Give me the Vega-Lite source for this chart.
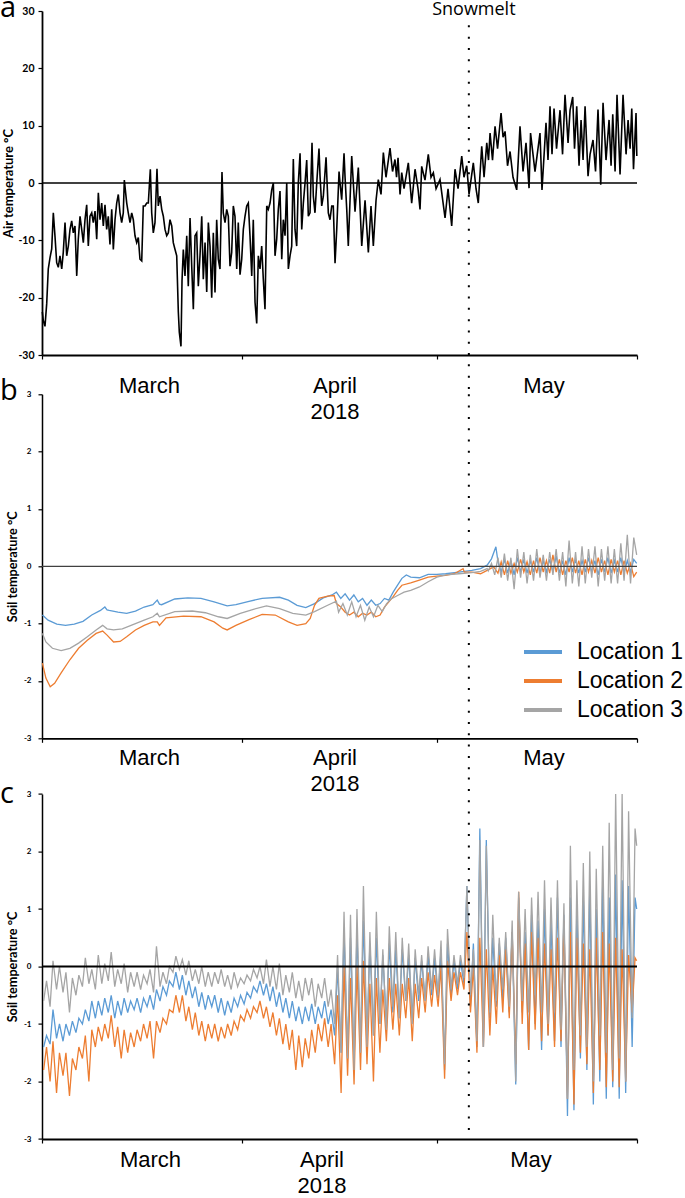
{
"$schema":"https://vega.github.io/schema/vega-lite/v6.json",
"padding":{"left":0,"top":-6,"right":0,"bottom":0},
"background":"white",
"config":{"view":{"stroke":null},"axis":{"grid":false,"domainColor":"black","tickColor":"black","labelColor":"black","titleColor":"black"}},
"datasets":{
"snow":[{"d":66,"label":"Snowmelt"}],
"zero":[{"t":0}],
"air":[{"d":0.05,"t":-22.5},{"d":0.2,"t":-24},{"d":0.46,"t":-25},{"d":0.73,"t":-21},{"d":0.97,"t":-15},{"d":1.24,"t":-13},{"d":1.5,"t":-11.5},{"d":1.75,"t":-5.2},{"d":2.01,"t":-9.3},{"d":2.27,"t":-13.9},{"d":2.52,"t":-14.7},{"d":2.78,"t":-12.7},{"d":3.05,"t":-15},{"d":3.29,"t":-12.1},{"d":3.56,"t":-6.9},{"d":3.82,"t":-12.7},{"d":4.07,"t":-11},{"d":4.33,"t":-8.1},{"d":4.59,"t":-6.6},{"d":4.84,"t":-8.7},{"d":5.1,"t":-7.5},{"d":5.37,"t":-16.2},{"d":5.61,"t":-9.8},{"d":5.88,"t":-5.8},{"d":6.14,"t":-8.1},{"d":6.39,"t":-10.4},{"d":6.65,"t":-6.4},{"d":6.91,"t":-3.8},{"d":7.16,"t":-11},{"d":7.42,"t":-5.8},{"d":7.69,"t":-5.2},{"d":7.93,"t":-6.9},{"d":8.2,"t":-4.9},{"d":8.46,"t":-9.8},{"d":8.71,"t":-1.7},{"d":8.97,"t":-6.4},{"d":9.23,"t":-3.5},{"d":9.48,"t":-7.5},{"d":9.74,"t":-3.8},{"d":10.0,"t":-8.1},{"d":10.25,"t":-5.8},{"d":10.51,"t":-10.7},{"d":10.78,"t":-4.6},{"d":11.03,"t":-11.6},{"d":11.29,"t":-6.4},{"d":11.55,"t":-3.5},{"d":11.8,"t":-2},{"d":12.06,"t":-5.2},{"d":12.32,"t":-6.9},{"d":12.57,"t":-5.2},{"d":12.73,"t":0.5},{"d":13.1,"t":-3.5},{"d":13.34,"t":-5.2},{"d":13.61,"t":-6.9},{"d":13.87,"t":-5.2},{"d":14.12,"t":-6.4},{"d":14.38,"t":-9.2},{"d":14.64,"t":-10.4},{"d":14.89,"t":-9.5},{"d":15.15,"t":-13.3},{"d":15.42,"t":-13.6},{"d":15.66,"t":-4},{"d":15.93,"t":-4},{"d":16.19,"t":-3.5},{"d":16.44,"t":-3.5},{"d":16.75,"t":2.4},{"d":16.96,"t":-5.2},{"d":17.21,"t":-8.7},{"d":17.47,"t":-6.9},{"d":17.78,"t":2.5},{"d":17.98,"t":-4},{"d":18.25,"t":-2.3},{"d":18.51,"t":-4.6},{"d":18.76,"t":-5.8},{"d":19.02,"t":-8.1},{"d":19.28,"t":-9.2},{"d":19.53,"t":-8.7},{"d":19.79,"t":-6.4},{"d":20.06,"t":-7.5},{"d":20.3,"t":-10.4},{"d":20.57,"t":-11.6},{"d":20.83,"t":-12.7},{"d":21.08,"t":-22.5},{"d":21.23,"t":-26},{"d":21.49,"t":-28.5},{"d":21.65,"t":-17},{"d":21.85,"t":-11.6},{"d":22.11,"t":-16.2},{"d":22.38,"t":-9.2},{"d":22.62,"t":-18},{"d":22.89,"t":-6.1},{"d":23.15,"t":-14.5},{"d":23.4,"t":-22},{"d":23.66,"t":-9.2},{"d":23.92,"t":-8.7},{"d":24.17,"t":-18},{"d":24.43,"t":-12.7},{"d":24.7,"t":-5.8},{"d":24.94,"t":-16.8},{"d":25.21,"t":-10.4},{"d":25.47,"t":-19},{"d":25.72,"t":-6.9},{"d":25.98,"t":-11},{"d":26.24,"t":-20},{"d":26.49,"t":-8.7},{"d":26.75,"t":-19.1},{"d":27.01,"t":-6.4},{"d":27.26,"t":-13.3},{"d":27.52,"t":-15},{"d":27.83,"t":1.9},{"d":28.03,"t":-5.2},{"d":28.3,"t":-6.9},{"d":28.56,"t":-4.6},{"d":28.81,"t":-5.8},{"d":29.07,"t":-14.5},{"d":29.33,"t":-12.1},{"d":29.58,"t":-4},{"d":29.84,"t":-5.8},{"d":30.11,"t":-15},{"d":30.35,"t":-6.9},{"d":30.62,"t":-16},{"d":30.88,"t":-13.3},{"d":31.13,"t":-8.1},{"d":31.39,"t":-5.8},{"d":31.65,"t":-4},{"d":31.9,"t":-3.5},{"d":32.16,"t":-9.2},{"d":32.43,"t":-16.2},{"d":32.67,"t":-6.4},{"d":32.94,"t":-20.8},{"d":33.2,"t":-24.5},{"d":33.45,"t":-12.7},{"d":33.71,"t":-15},{"d":33.97,"t":-11},{"d":34.22,"t":-16.8},{"d":34.48,"t":-22},{"d":34.75,"t":-4},{"d":34.99,"t":-4.6},{"d":35.26,"t":-3.5},{"d":35.52,"t":-1.2},{"d":35.77,"t":0},{"d":36.03,"t":-12.7},{"d":36.29,"t":-9.8},{"d":36.54,"t":-4.6},{"d":36.8,"t":-1.4},{"d":37.07,"t":-13.3},{"d":37.31,"t":-6.4},{"d":37.58,"t":-9.2},{"d":37.84,"t":0},{"d":38.09,"t":-15},{"d":38.35,"t":-12.7},{"d":38.61,"t":-11},{"d":38.86,"t":4.2},{"d":39.12,"t":-8.1},{"d":39.38,"t":-11},{"d":39.63,"t":0},{"d":39.9,"t":5.2},{"d":40.16,"t":-8.1},{"d":40.41,"t":-3.5},{"d":40.67,"t":0},{"d":40.93,"t":4},{"d":41.18,"t":-5.8},{"d":41.44,"t":-5.2},{"d":41.75,"t":7},{"d":41.95,"t":-2.3},{"d":42.21,"t":-5.2},{"d":42.48,"t":0},{"d":42.83,"t":6},{"d":42.99,"t":1.2},{"d":43.25,"t":-4},{"d":43.5,"t":-2.3},{"d":43.92,"t":4.5},{"d":44.27,"t":-5.2},{"d":44.53,"t":-6.4},{"d":44.8,"t":-4},{"d":45.04,"t":-4},{"d":45.31,"t":-14},{"d":45.57,"t":-8.1},{"d":45.93,"t":2},{"d":46.08,"t":0},{"d":46.34,"t":-2.9},{"d":46.7,"t":5.2},{"d":46.85,"t":1.2},{"d":47.12,"t":-4.6},{"d":47.36,"t":-11},{"d":47.89,"t":4.7},{"d":48.4,"t":-5},{"d":48.91,"t":2.7},{"d":49.44,"t":-11},{"d":49.95,"t":-3},{"d":50.46,"t":-12.1},{"d":50.87,"t":-4},{"d":51.23,"t":-11},{"d":51.65,"t":-3},{"d":52.0,"t":0.6},{"d":52.42,"t":-2},{"d":52.78,"t":5.3},{"d":53.19,"t":1},{"d":53.81,"t":6.1},{"d":54.2,"t":2},{"d":54.58,"t":4.1},{"d":54.82,"t":1},{"d":55.05,"t":4.4},{"d":55.36,"t":-2},{"d":55.62,"t":1.8},{"d":55.98,"t":-1},{"d":56.64,"t":3.5},{"d":57.16,"t":-3.5},{"d":57.68,"t":2.4},{"d":58.14,"t":-1},{"d":58.45,"t":-4.6},{"d":58.71,"t":2.9},{"d":59.22,"t":0.5},{"d":59.73,"t":5},{"d":60.15,"t":1},{"d":60.51,"t":1.8},{"d":60.93,"t":-1},{"d":61.54,"t":0.6},{"d":62.32,"t":-6.1},{"d":62.78,"t":-1},{"d":63.35,"t":-7.5},{"d":63.86,"t":2.4},{"d":64.33,"t":-1},{"d":64.9,"t":4.7},{"d":65.25,"t":1},{"d":65.67,"t":3},{"d":66.03,"t":-2},{"d":66.69,"t":3.5},{"d":67.11,"t":-1},{"d":67.46,"t":-3.5},{"d":67.99,"t":6.4},{"d":68.35,"t":1},{"d":68.77,"t":7},{"d":69.04,"t":4},{"d":69.28,"t":8.7},{"d":69.66,"t":4},{"d":70.05,"t":9.9},{"d":70.44,"t":6},{"d":70.98,"t":12.2},{"d":71.29,"t":8},{"d":71.6,"t":9},{"d":71.98,"t":3},{"d":72.37,"t":5.5},{"d":72.83,"t":1},{"d":73.4,"t":-1.2},{"d":73.91,"t":9.9},{"d":74.38,"t":2},{"d":74.84,"t":7},{"d":75.31,"t":-0.9},{"d":75.54,"t":8.7},{"d":76.23,"t":2},{"d":77.0,"t":8.7},{"d":77.31,"t":-1.2},{"d":77.93,"t":10.5},{"d":78.24,"t":4},{"d":78.55,"t":13.4},{"d":78.86,"t":5},{"d":79.17,"t":13},{"d":79.56,"t":6},{"d":80.1,"t":12.7},{"d":80.49,"t":5},{"d":80.87,"t":15.4},{"d":81.34,"t":7},{"d":81.65,"t":12.7},{"d":82.06,"t":15},{"d":82.34,"t":6},{"d":82.68,"t":13.4},{"d":83.04,"t":3},{"d":83.35,"t":11},{"d":83.66,"t":4},{"d":83.97,"t":13.4},{"d":84.43,"t":1.2},{"d":84.74,"t":5},{"d":85.2,"t":7.5},{"d":85.59,"t":2},{"d":85.97,"t":12.8},{"d":86.39,"t":-0.3},{"d":86.75,"t":14},{"d":87.21,"t":4},{"d":87.68,"t":11},{"d":87.99,"t":3},{"d":88.25,"t":12},{"d":88.61,"t":2},{"d":88.91,"t":15.4},{"d":89.38,"t":1.5},{"d":89.84,"t":15.4},{"d":90.31,"t":5},{"d":90.62,"t":11},{"d":90.93,"t":6},{"d":91.19,"t":13},{"d":91.46,"t":2.4},{"d":91.85,"t":12.2},{"d":91.97,"t":4.7}],
"soilb":[
{"d":0.06,"s":1,"t":-0.85},{"d":0.94,"s":1,"t":-0.94},{"d":2.29,"s":1,"t":-1.01},{"d":3.64,"s":1,"t":-1.03},{"d":4.99,"s":1,"t":-1.01},{"d":6.34,"s":1,"t":-0.96},{"d":7.69,"s":1,"t":-0.85},{"d":9.04,"s":1,"t":-0.77},{"d":9.72,"s":1,"t":-0.71},{"d":10.06,"s":1,"t":-0.76},{"d":10.39,"s":1,"t":-0.77},{"d":11.74,"s":1,"t":-0.8},{"d":13.09,"s":1,"t":-0.82},{"d":14.45,"s":1,"t":-0.78},{"d":15.8,"s":1,"t":-0.71},{"d":17.15,"s":1,"t":-0.67},{"d":17.82,"s":1,"t":-0.59},{"d":18.16,"s":1,"t":-0.66},{"d":18.5,"s":1,"t":-0.67},{"d":20.53,"s":1,"t":-0.57},{"d":22.55,"s":1,"t":-0.55},{"d":24.58,"s":1,"t":-0.56},{"d":26.61,"s":1,"t":-0.62},{"d":28.63,"s":1,"t":-0.69},{"d":29.98,"s":1,"t":-0.67},{"d":32.01,"s":1,"t":-0.61},{"d":34.04,"s":1,"t":-0.56},{"d":36.74,"s":1,"t":-0.54},{"d":38.09,"s":1,"t":-0.59},{"d":39.44,"s":1,"t":-0.68},{"d":40.79,"s":1,"t":-0.72},{"d":42.14,"s":1,"t":-0.65},{"d":43.49,"s":1,"t":-0.55},{"d":44.84,"s":1,"t":-0.5},{"d":45.52,"s":1,"t":-0.45},{"d":46.2,"s":1,"t":-0.56},{"d":46.87,"s":1,"t":-0.48},{"d":47.55,"s":1,"t":-0.59},{"d":48.22,"s":1,"t":-0.5},{"d":48.9,"s":1,"t":-0.62},{"d":49.57,"s":1,"t":-0.56},{"d":50.25,"s":1,"t":-0.68},{"d":50.92,"s":1,"t":-0.59},{"d":51.6,"s":1,"t":-0.68},{"d":52.28,"s":1,"t":-0.65},{"d":52.95,"s":1,"t":-0.56},{"d":53.63,"s":1,"t":-0.59},{"d":54.3,"s":1,"t":-0.45},{"d":54.98,"s":1,"t":-0.33},{"d":55.65,"s":1,"t":-0.21},{"d":56.33,"s":1,"t":-0.15},{"d":57.01,"s":1,"t":-0.19},{"d":58.36,"s":1,"t":-0.2},{"d":59.71,"s":1,"t":-0.14},{"d":61.06,"s":1,"t":-0.14},{"d":62.41,"s":1,"t":-0.13},{"d":64.44,"s":1,"t":-0.1},{"d":66.46,"s":1,"t":-0.07},{"d":67.81,"s":1,"t":-0.04},{"d":68.83,"s":1,"t":0.02},{"d":69.5,"s":1,"t":0.13},{"d":70.18,"s":1,"t":0.34},{"d":70.52,"s":1,"t":0.07},{"d":71.0,"s":1,"t":-0.1},{"d":71.5,"s":1,"t":0.12},{"d":72.0,"s":1,"t":-0.12},{"d":72.5,"s":1,"t":0.1},{"d":73.0,"s":1,"t":-0.15},{"d":73.5,"s":1,"t":0.15},{"d":74.0,"s":1,"t":-0.1},{"d":74.5,"s":1,"t":0.12},{"d":75.0,"s":1,"t":-0.12},{"d":75.5,"s":1,"t":0.1},{"d":76.0,"s":1,"t":-0.1},{"d":76.5,"s":1,"t":0.15},{"d":77.0,"s":1,"t":-0.12},{"d":77.5,"s":1,"t":0.1},{"d":78.0,"s":1,"t":-0.1},{"d":78.5,"s":1,"t":0.12},{"d":79.0,"s":1,"t":-0.1},{"d":79.5,"s":1,"t":0.18},{"d":80.0,"s":1,"t":-0.12},{"d":80.5,"s":1,"t":0.1},{"d":81.0,"s":1,"t":-0.15},{"d":81.5,"s":1,"t":0.15},{"d":82.0,"s":1,"t":-0.1},{"d":82.5,"s":1,"t":0.12},{"d":83.0,"s":1,"t":-0.12},{"d":83.5,"s":1,"t":0.1},{"d":84.0,"s":1,"t":-0.1},{"d":84.5,"s":1,"t":0.15},{"d":85.0,"s":1,"t":-0.1},{"d":85.5,"s":1,"t":0.1},{"d":86.0,"s":1,"t":-0.15},{"d":86.5,"s":1,"t":0.12},{"d":87.0,"s":1,"t":-0.1},{"d":87.5,"s":1,"t":0.15},{"d":88.0,"s":1,"t":-0.12},{"d":88.5,"s":1,"t":0.1},{"d":89.0,"s":1,"t":-0.1},{"d":89.5,"s":1,"t":0.15},{"d":90.0,"s":1,"t":-0.12},{"d":90.5,"s":1,"t":0.1},{"d":91.0,"s":1,"t":-0.1},{"d":91.5,"s":1,"t":0.12},{"d":91.95,"s":1,"t":0.05},
{"d":0.06,"s":2,"t":-1.69},{"d":0.6,"s":2,"t":-1.95},{"d":1.27,"s":2,"t":-2.1},{"d":1.95,"s":2,"t":-2.04},{"d":2.96,"s":2,"t":-1.86},{"d":4.31,"s":2,"t":-1.63},{"d":5.66,"s":2,"t":-1.43},{"d":7.01,"s":2,"t":-1.29},{"d":8.37,"s":2,"t":-1.17},{"d":9.38,"s":2,"t":-1.13},{"d":10.06,"s":2,"t":-1.2},{"d":11.07,"s":2,"t":-1.32},{"d":12.08,"s":2,"t":-1.31},{"d":13.09,"s":2,"t":-1.23},{"d":14.45,"s":2,"t":-1.11},{"d":15.8,"s":2,"t":-1.03},{"d":17.15,"s":2,"t":-0.97},{"d":17.82,"s":2,"t":-0.97},{"d":18.16,"s":2,"t":-1.03},{"d":19.18,"s":2,"t":-0.9},{"d":21.88,"s":2,"t":-0.87},{"d":24.58,"s":2,"t":-0.88},{"d":26.61,"s":2,"t":-0.97},{"d":27.96,"s":2,"t":-1.08},{"d":28.63,"s":2,"t":-1.11},{"d":29.98,"s":2,"t":-1.03},{"d":32.01,"s":2,"t":-0.93},{"d":34.04,"s":2,"t":-0.84},{"d":36.06,"s":2,"t":-0.85},{"d":38.09,"s":2,"t":-0.97},{"d":39.44,"s":2,"t":-1.03},{"d":40.79,"s":2,"t":-1.0},{"d":41.47,"s":2,"t":-0.91},{"d":42.14,"s":2,"t":-0.68},{"d":42.82,"s":2,"t":-0.56},{"d":44.17,"s":2,"t":-0.52},{"d":45.18,"s":2,"t":-0.51},{"d":45.52,"s":2,"t":-0.65},{"d":46.2,"s":2,"t":-0.71},{"d":46.87,"s":2,"t":-0.8},{"d":47.55,"s":2,"t":-0.85},{"d":48.22,"s":2,"t":-0.8},{"d":48.9,"s":2,"t":-0.88},{"d":49.57,"s":2,"t":-0.82},{"d":50.25,"s":2,"t":-0.85},{"d":50.92,"s":2,"t":-0.8},{"d":51.6,"s":2,"t":-0.88},{"d":52.28,"s":2,"t":-0.85},{"d":52.95,"s":2,"t":-0.71},{"d":53.63,"s":2,"t":-0.62},{"d":54.3,"s":2,"t":-0.53},{"d":54.98,"s":2,"t":-0.42},{"d":55.65,"s":2,"t":-0.33},{"d":57.01,"s":2,"t":-0.29},{"d":58.36,"s":2,"t":-0.24},{"d":59.71,"s":2,"t":-0.19},{"d":61.06,"s":2,"t":-0.17},{"d":62.41,"s":2,"t":-0.16},{"d":63.76,"s":2,"t":-0.13},{"d":65.11,"s":2,"t":-0.04},{"d":65.3,"s":2,"t":-0.1},{"d":66.46,"s":2,"t":-0.1},{"d":67.81,"s":2,"t":-0.13},{"d":68.83,"s":2,"t":-0.07},{"d":69.84,"s":2,"t":-0.01},{"d":70.5,"s":2,"t":-0.12},{"d":71.0,"s":2,"t":0.08},{"d":71.5,"s":2,"t":-0.15},{"d":72.0,"s":2,"t":0.1},{"d":72.5,"s":2,"t":-0.12},{"d":73.0,"s":2,"t":0.05},{"d":73.5,"s":2,"t":-0.1},{"d":74.0,"s":2,"t":0.12},{"d":74.5,"s":2,"t":-0.1},{"d":75.0,"s":2,"t":0.08},{"d":75.5,"s":2,"t":-0.15},{"d":76.0,"s":2,"t":0.1},{"d":76.5,"s":2,"t":-0.12},{"d":77.0,"s":2,"t":0.15},{"d":77.5,"s":2,"t":-0.1},{"d":78.0,"s":2,"t":0.1},{"d":78.5,"s":2,"t":-0.12},{"d":79.0,"s":2,"t":0.2},{"d":79.5,"s":2,"t":-0.1},{"d":80.0,"s":2,"t":0.12},{"d":80.5,"s":2,"t":-0.15},{"d":81.0,"s":2,"t":0.1},{"d":81.5,"s":2,"t":-0.1},{"d":82.0,"s":2,"t":0.15},{"d":82.5,"s":2,"t":-0.12},{"d":83.0,"s":2,"t":0.1},{"d":83.5,"s":2,"t":-0.15},{"d":84.0,"s":2,"t":0.12},{"d":84.5,"s":2,"t":-0.1},{"d":85.0,"s":2,"t":0.1},{"d":85.5,"s":2,"t":-0.12},{"d":86.0,"s":2,"t":0.15},{"d":86.5,"s":2,"t":-0.1},{"d":87.0,"s":2,"t":0.1},{"d":87.5,"s":2,"t":-0.15},{"d":88.0,"s":2,"t":0.12},{"d":88.5,"s":2,"t":-0.1},{"d":89.0,"s":2,"t":0.1},{"d":89.5,"s":2,"t":-0.15},{"d":90.0,"s":2,"t":0.1},{"d":90.5,"s":2,"t":-0.12},{"d":91.0,"s":2,"t":0.05},{"d":91.5,"s":2,"t":-0.18},{"d":91.95,"s":2,"t":-0.1},
{"d":0.06,"s":3,"t":-1.17},{"d":0.6,"s":3,"t":-1.32},{"d":1.61,"s":3,"t":-1.43},{"d":2.96,"s":3,"t":-1.47},{"d":4.31,"s":3,"t":-1.43},{"d":5.66,"s":3,"t":-1.34},{"d":7.01,"s":3,"t":-1.23},{"d":8.37,"s":3,"t":-1.11},{"d":9.38,"s":3,"t":-1.03},{"d":10.06,"s":3,"t":-1.09},{"d":11.07,"s":3,"t":-1.11},{"d":12.42,"s":3,"t":-1.09},{"d":13.77,"s":3,"t":-1.03},{"d":15.8,"s":3,"t":-0.94},{"d":17.15,"s":3,"t":-0.88},{"d":17.82,"s":3,"t":-0.82},{"d":18.16,"s":3,"t":-0.88},{"d":20.53,"s":3,"t":-0.79},{"d":23.23,"s":3,"t":-0.78},{"d":25.26,"s":3,"t":-0.81},{"d":27.28,"s":3,"t":-0.88},{"d":28.63,"s":3,"t":-0.91},{"d":30.66,"s":3,"t":-0.82},{"d":32.69,"s":3,"t":-0.75},{"d":34.71,"s":3,"t":-0.69},{"d":36.74,"s":3,"t":-0.74},{"d":38.77,"s":3,"t":-0.82},{"d":40.79,"s":3,"t":-0.85},{"d":42.14,"s":3,"t":-0.79},{"d":44.17,"s":3,"t":-0.68},{"d":45.52,"s":3,"t":-0.61},{"d":45.86,"s":3,"t":-0.8},{"d":46.53,"s":3,"t":-0.65},{"d":47.21,"s":3,"t":-0.85},{"d":47.89,"s":3,"t":-0.62},{"d":48.56,"s":3,"t":-0.88},{"d":49.24,"s":3,"t":-0.68},{"d":49.91,"s":3,"t":-0.94},{"d":50.59,"s":3,"t":-0.71},{"d":51.26,"s":3,"t":-0.88},{"d":51.94,"s":3,"t":-0.68},{"d":52.61,"s":3,"t":-0.79},{"d":53.29,"s":3,"t":-0.65},{"d":53.97,"s":3,"t":-0.57},{"d":54.98,"s":3,"t":-0.51},{"d":55.99,"s":3,"t":-0.45},{"d":57.01,"s":3,"t":-0.42},{"d":58.36,"s":3,"t":-0.36},{"d":59.71,"s":3,"t":-0.27},{"d":61.06,"s":3,"t":-0.19},{"d":62.41,"s":3,"t":-0.15},{"d":64.44,"s":3,"t":-0.13},{"d":66.46,"s":3,"t":-0.11},{"d":67.81,"s":3,"t":-0.09},{"d":68.83,"s":3,"t":-0.04},{"d":69.0,"s":3,"t":-0.08},{"d":69.5,"s":3,"t":0.05},{"d":70.0,"s":3,"t":-0.15},{"d":70.5,"s":3,"t":0.15},{"d":71.0,"s":3,"t":-0.2},{"d":71.5,"s":3,"t":0.22},{"d":72.0,"s":3,"t":-0.25},{"d":72.5,"s":3,"t":0.15},{"d":73.0,"s":3,"t":-0.4},{"d":73.5,"s":3,"t":0.3},{"d":74.0,"s":3,"t":-0.2},{"d":74.5,"s":3,"t":0.25},{"d":75.0,"s":3,"t":-0.3},{"d":75.5,"s":3,"t":0.2},{"d":76.0,"s":3,"t":-0.25},{"d":76.5,"s":3,"t":0.3},{"d":77.0,"s":3,"t":-0.2},{"d":77.5,"s":3,"t":0.2},{"d":78.0,"s":3,"t":-0.25},{"d":78.5,"s":3,"t":0.25},{"d":79.0,"s":3,"t":-0.15},{"d":79.5,"s":3,"t":0.3},{"d":80.0,"s":3,"t":-0.25},{"d":80.5,"s":3,"t":0.25},{"d":81.0,"s":3,"t":-0.35},{"d":81.5,"s":3,"t":0.45},{"d":82.0,"s":3,"t":-0.3},{"d":82.5,"s":3,"t":0.25},{"d":83.0,"s":3,"t":-0.35},{"d":83.5,"s":3,"t":0.35},{"d":84.0,"s":3,"t":-0.3},{"d":84.5,"s":3,"t":0.3},{"d":85.0,"s":3,"t":-0.2},{"d":85.5,"s":3,"t":0.35},{"d":86.0,"s":3,"t":-0.35},{"d":86.5,"s":3,"t":0.3},{"d":87.0,"s":3,"t":-0.25},{"d":87.5,"s":3,"t":0.35},{"d":88.0,"s":3,"t":-0.3},{"d":88.5,"s":3,"t":0.3},{"d":89.0,"s":3,"t":-0.3},{"d":89.5,"s":3,"t":0.4},{"d":90.0,"s":3,"t":-0.25},{"d":90.5,"s":3,"t":0.55},{"d":91.0,"s":3,"t":-0.3},{"d":91.5,"s":3,"t":0.5},{"d":91.95,"s":3,"t":0.2}],
"soilc":[
{"d":0.25,"s":1,"t":-1.4},{"d":0.7,"s":1,"t":-1.2},{"d":1.25,"s":1,"t":-1.35},{"d":1.7,"s":1,"t":-0.75},{"d":2.25,"s":1,"t":-1.25},{"d":2.7,"s":1,"t":-1.0},{"d":3.25,"s":1,"t":-1.3},{"d":3.7,"s":1,"t":-1.0},{"d":4.25,"s":1,"t":-1.2},{"d":4.7,"s":1,"t":-0.95},{"d":5.25,"s":1,"t":-1.15},{"d":5.7,"s":1,"t":-0.9},{"d":6.25,"s":1,"t":-1.0},{"d":6.7,"s":1,"t":-0.75},{"d":7.25,"s":1,"t":-0.95},{"d":7.7,"s":1,"t":-0.6},{"d":8.25,"s":1,"t":-0.9},{"d":8.7,"s":1,"t":-0.6},{"d":9.25,"s":1,"t":-0.85},{"d":9.7,"s":1,"t":-0.55},{"d":10.25,"s":1,"t":-0.8},{"d":10.7,"s":1,"t":-0.5},{"d":11.25,"s":1,"t":-0.9},{"d":11.7,"s":1,"t":-0.6},{"d":12.25,"s":1,"t":-0.85},{"d":12.7,"s":1,"t":-0.55},{"d":13.25,"s":1,"t":-0.8},{"d":13.7,"s":1,"t":-0.6},{"d":14.25,"s":1,"t":-0.75},{"d":14.7,"s":1,"t":-0.55},{"d":15.25,"s":1,"t":-0.8},{"d":15.7,"s":1,"t":-0.55},{"d":16.25,"s":1,"t":-0.7},{"d":16.7,"s":1,"t":-0.5},{"d":17.25,"s":1,"t":-0.75},{"d":17.7,"s":1,"t":-0.4},{"d":18.25,"s":1,"t":-0.6},{"d":18.7,"s":1,"t":-0.35},{"d":19.25,"s":1,"t":-0.5},{"d":19.7,"s":1,"t":-0.25},{"d":20.25,"s":1,"t":-0.35},{"d":20.7,"s":1,"t":-0.1},{"d":21.25,"s":1,"t":-0.4},{"d":21.7,"s":1,"t":-0.15},{"d":22.25,"s":1,"t":-0.5},{"d":22.7,"s":1,"t":-0.25},{"d":23.25,"s":1,"t":-0.55},{"d":23.7,"s":1,"t":-0.35},{"d":24.25,"s":1,"t":-0.7},{"d":24.7,"s":1,"t":-0.45},{"d":25.25,"s":1,"t":-0.75},{"d":25.7,"s":1,"t":-0.5},{"d":26.25,"s":1,"t":-0.7},{"d":26.7,"s":1,"t":-0.5},{"d":27.25,"s":1,"t":-0.8},{"d":27.7,"s":1,"t":-0.55},{"d":28.25,"s":1,"t":-0.85},{"d":28.7,"s":1,"t":-0.6},{"d":29.25,"s":1,"t":-0.8},{"d":29.7,"s":1,"t":-0.55},{"d":30.25,"s":1,"t":-0.7},{"d":30.7,"s":1,"t":-0.5},{"d":31.25,"s":1,"t":-0.65},{"d":31.7,"s":1,"t":-0.45},{"d":32.25,"s":1,"t":-0.55},{"d":32.7,"s":1,"t":-0.35},{"d":33.25,"s":1,"t":-0.45},{"d":33.7,"s":1,"t":-0.25},{"d":34.25,"s":1,"t":-0.5},{"d":34.7,"s":1,"t":-0.3},{"d":35.25,"s":1,"t":-0.6},{"d":35.7,"s":1,"t":-0.35},{"d":36.25,"s":1,"t":-0.7},{"d":36.7,"s":1,"t":-0.45},{"d":37.25,"s":1,"t":-0.8},{"d":37.7,"s":1,"t":-0.55},{"d":38.25,"s":1,"t":-0.9},{"d":38.7,"s":1,"t":-0.6},{"d":39.25,"s":1,"t":-0.95},{"d":39.7,"s":1,"t":-0.7},{"d":40.25,"s":1,"t":-1.0},{"d":40.7,"s":1,"t":-0.7},{"d":41.25,"s":1,"t":-0.95},{"d":41.7,"s":1,"t":-0.65},{"d":42.25,"s":1,"t":-1.0},{"d":42.7,"s":1,"t":-0.7},{"d":43.25,"s":1,"t":-0.9},{"d":43.7,"s":1,"t":-0.6},{"d":44.25,"s":1,"t":-1.0},{"d":44.7,"s":1,"t":-0.75},{"d":45.25,"s":1,"t":-1.2},{"d":45.7,"s":1,"t":0.0},{"d":46.25,"s":1,"t":-1.5},{"d":46.7,"s":1,"t":0.6},{"d":47.25,"s":1,"t":-1.6},{"d":47.7,"s":1,"t":0.5},{"d":48.25,"s":1,"t":-1.7},{"d":48.7,"s":1,"t":0.6},{"d":49.25,"s":1,"t":-1.5},{"d":49.7,"s":1,"t":0.8},{"d":50.25,"s":1,"t":-1.3},{"d":50.7,"s":1,"t":0.4},{"d":51.25,"s":1,"t":-1.2},{"d":51.7,"s":1,"t":0.5},{"d":52.25,"s":1,"t":-1.0},{"d":52.7,"s":1,"t":0.2},{"d":53.25,"s":1,"t":-1.0},{"d":53.7,"s":1,"t":0.4},{"d":54.25,"s":1,"t":-0.8},{"d":54.7,"s":1,"t":0.3},{"d":55.25,"s":1,"t":-0.9},{"d":55.7,"s":1,"t":0.3},{"d":56.25,"s":1,"t":-0.6},{"d":56.7,"s":1,"t":0.2},{"d":57.25,"s":1,"t":-0.9},{"d":57.7,"s":1,"t":0.15},{"d":58.25,"s":1,"t":-0.6},{"d":58.7,"s":1,"t":0.1},{"d":59.25,"s":1,"t":-0.6},{"d":59.7,"s":1,"t":0.2},{"d":60.25,"s":1,"t":-0.5},{"d":60.7,"s":1,"t":0.15},{"d":61.25,"s":1,"t":-0.55},{"d":61.7,"s":1,"t":0.3},{"d":62.25,"s":1,"t":-1.8},{"d":62.7,"s":1,"t":0.4},{"d":63.25,"s":1,"t":-0.5},{"d":63.7,"s":1,"t":0.1},{"d":64.25,"s":1,"t":-0.4},{"d":64.7,"s":1,"t":0.1},{"d":65.25,"s":1,"t":-0.3},{"d":65.7,"s":1,"t":1.4},{"d":66.25,"s":1,"t":-0.7},{"d":66.7,"s":1,"t":0.4},{"d":67.25,"s":1,"t":-1.4},{"d":67.7,"s":1,"t":2.4},{"d":68.25,"s":1,"t":-1.4},{"d":68.7,"s":1,"t":2.2},{"d":69.25,"s":1,"t":-0.9},{"d":69.7,"s":1,"t":0.5},{"d":70.25,"s":1,"t":-0.7},{"d":70.7,"s":1,"t":0.4},{"d":71.25,"s":1,"t":-0.6},{"d":71.7,"s":1,"t":0.5},{"d":72.25,"s":1,"t":-0.8},{"d":72.7,"s":1,"t":0.6},{"d":73.25,"s":1,"t":-2.05},{"d":73.7,"s":1,"t":1.2},{"d":74.25,"s":1,"t":-0.8},{"d":74.7,"s":1,"t":0.6},{"d":75.25,"s":1,"t":-1.45},{"d":75.7,"s":1,"t":0.9},{"d":76.25,"s":1,"t":-1.0},{"d":76.7,"s":1,"t":0.8},{"d":77.25,"s":1,"t":-1.45},{"d":77.7,"s":1,"t":1.0},{"d":78.25,"s":1,"t":-1.2},{"d":78.7,"s":1,"t":0.8},{"d":79.25,"s":1,"t":-1.3},{"d":79.7,"s":1,"t":1.2},{"d":80.25,"s":1,"t":-1.4},{"d":80.7,"s":1,"t":0.9},{"d":81.25,"s":1,"t":-2.6},{"d":81.7,"s":1,"t":1.2},{"d":82.25,"s":1,"t":-2.5},{"d":82.7,"s":1,"t":1.0},{"d":83.25,"s":1,"t":-1.6},{"d":83.7,"s":1,"t":1.2},{"d":84.25,"s":1,"t":-1.8},{"d":84.7,"s":1,"t":1.4},{"d":85.25,"s":1,"t":-2.4},{"d":85.7,"s":1,"t":1.0},{"d":86.25,"s":1,"t":-2.0},{"d":86.7,"s":1,"t":1.5},{"d":87.25,"s":1,"t":-2.3},{"d":87.7,"s":1,"t":1.2},{"d":88.25,"s":1,"t":-2.1},{"d":88.7,"s":1,"t":1.6},{"d":89.25,"s":1,"t":-2.3},{"d":89.7,"s":1,"t":1.5},{"d":90.25,"s":1,"t":-2.2},{"d":90.7,"s":1,"t":1.4},{"d":91.25,"s":1,"t":-1.4},{"d":91.7,"s":1,"t":1.2},{"d":91.95,"s":1,"t":1.0},
{"d":0.25,"s":2,"t":-1.8},{"d":0.7,"s":2,"t":-1.4},{"d":1.25,"s":2,"t":-2.0},{"d":1.7,"s":2,"t":-1.3},{"d":2.25,"s":2,"t":-2.2},{"d":2.7,"s":2,"t":-1.5},{"d":3.25,"s":2,"t":-1.9},{"d":3.7,"s":2,"t":-1.5},{"d":4.25,"s":2,"t":-2.25},{"d":4.7,"s":2,"t":-1.6},{"d":5.25,"s":2,"t":-1.8},{"d":5.7,"s":2,"t":-1.4},{"d":6.25,"s":2,"t":-1.6},{"d":6.7,"s":2,"t":-1.2},{"d":7.25,"s":2,"t":-2.0},{"d":7.7,"s":2,"t":-1.1},{"d":8.25,"s":2,"t":-1.4},{"d":8.7,"s":2,"t":-1.05},{"d":9.25,"s":2,"t":-1.3},{"d":9.7,"s":2,"t":-1.0},{"d":10.25,"s":2,"t":-1.25},{"d":10.7,"s":2,"t":-0.85},{"d":11.25,"s":2,"t":-1.4},{"d":11.7,"s":2,"t":-1.05},{"d":12.25,"s":2,"t":-1.6},{"d":12.7,"s":2,"t":-1.1},{"d":13.25,"s":2,"t":-1.5},{"d":13.7,"s":2,"t":-1.15},{"d":14.25,"s":2,"t":-1.4},{"d":14.7,"s":2,"t":-1.1},{"d":15.25,"s":2,"t":-1.3},{"d":15.7,"s":2,"t":-1.0},{"d":16.25,"s":2,"t":-1.25},{"d":16.7,"s":2,"t":-0.95},{"d":17.25,"s":2,"t":-1.6},{"d":17.7,"s":2,"t":-0.95},{"d":18.25,"s":2,"t":-1.15},{"d":18.7,"s":2,"t":-0.9},{"d":19.25,"s":2,"t":-1.0},{"d":19.7,"s":2,"t":-0.75},{"d":20.25,"s":2,"t":-0.8},{"d":20.7,"s":2,"t":-0.5},{"d":21.25,"s":2,"t":-0.8},{"d":21.7,"s":2,"t":-0.5},{"d":22.25,"s":2,"t":-0.95},{"d":22.7,"s":2,"t":-0.7},{"d":23.25,"s":2,"t":-1.1},{"d":23.7,"s":2,"t":-0.8},{"d":24.25,"s":2,"t":-1.2},{"d":24.7,"s":2,"t":-0.95},{"d":25.25,"s":2,"t":-1.3},{"d":25.7,"s":2,"t":-1.0},{"d":26.25,"s":2,"t":-1.25},{"d":26.7,"s":2,"t":-1.0},{"d":27.25,"s":2,"t":-1.3},{"d":27.7,"s":2,"t":-1.05},{"d":28.25,"s":2,"t":-1.25},{"d":28.7,"s":2,"t":-1.0},{"d":29.25,"s":2,"t":-1.2},{"d":29.7,"s":2,"t":-0.95},{"d":30.25,"s":2,"t":-1.1},{"d":30.7,"s":2,"t":-0.85},{"d":31.25,"s":2,"t":-0.95},{"d":31.7,"s":2,"t":-0.75},{"d":32.25,"s":2,"t":-0.9},{"d":32.7,"s":2,"t":-0.7},{"d":33.25,"s":2,"t":-0.8},{"d":33.7,"s":2,"t":-0.6},{"d":34.25,"s":2,"t":-0.9},{"d":34.7,"s":2,"t":-0.7},{"d":35.25,"s":2,"t":-1.05},{"d":35.7,"s":2,"t":-0.8},{"d":36.25,"s":2,"t":-1.2},{"d":36.7,"s":2,"t":-0.9},{"d":37.25,"s":2,"t":-1.35},{"d":37.7,"s":2,"t":-1.0},{"d":38.25,"s":2,"t":-1.45},{"d":38.7,"s":2,"t":-1.1},{"d":39.25,"s":2,"t":-1.8},{"d":39.7,"s":2,"t":-1.2},{"d":40.25,"s":2,"t":-1.75},{"d":40.7,"s":2,"t":-1.25},{"d":41.25,"s":2,"t":-1.6},{"d":41.7,"s":2,"t":-1.1},{"d":42.25,"s":2,"t":-1.5},{"d":42.7,"s":2,"t":-1.0},{"d":43.25,"s":2,"t":-1.3},{"d":43.7,"s":2,"t":-0.9},{"d":44.25,"s":2,"t":-1.4},{"d":44.7,"s":2,"t":-1.0},{"d":45.25,"s":2,"t":-1.7},{"d":45.7,"s":2,"t":-0.5},{"d":46.25,"s":2,"t":-2.2},{"d":46.7,"s":2,"t":0.0},{"d":47.25,"s":2,"t":-1.9},{"d":47.7,"s":2,"t":-0.2},{"d":48.25,"s":2,"t":-2.05},{"d":48.7,"s":2,"t":0.0},{"d":49.25,"s":2,"t":-1.8},{"d":49.7,"s":2,"t":0.1},{"d":50.25,"s":2,"t":-1.7},{"d":50.7,"s":2,"t":-0.3},{"d":51.25,"s":2,"t":-2.0},{"d":51.7,"s":2,"t":-0.2},{"d":52.25,"s":2,"t":-1.5},{"d":52.7,"s":2,"t":-0.4},{"d":53.25,"s":2,"t":-1.3},{"d":53.7,"s":2,"t":-0.2},{"d":54.25,"s":2,"t":-1.1},{"d":54.7,"s":2,"t":-0.3},{"d":55.25,"s":2,"t":-1.2},{"d":55.7,"s":2,"t":-0.3},{"d":56.25,"s":2,"t":-0.9},{"d":56.7,"s":2,"t":-0.2},{"d":57.25,"s":2,"t":-1.3},{"d":57.7,"s":2,"t":-0.3},{"d":58.25,"s":2,"t":-0.9},{"d":58.7,"s":2,"t":-0.2},{"d":59.25,"s":2,"t":-0.8},{"d":59.7,"s":2,"t":-0.1},{"d":60.25,"s":2,"t":-0.7},{"d":60.7,"s":2,"t":-0.15},{"d":61.25,"s":2,"t":-0.7},{"d":61.7,"s":2,"t":0.0},{"d":62.25,"s":2,"t":-1.95},{"d":62.7,"s":2,"t":0.1},{"d":63.25,"s":2,"t":-0.6},{"d":63.7,"s":2,"t":-0.1},{"d":64.25,"s":2,"t":-0.5},{"d":64.7,"s":2,"t":-0.1},{"d":65.25,"s":2,"t":-0.4},{"d":65.7,"s":2,"t":0.6},{"d":66.25,"s":2,"t":-0.8},{"d":66.7,"s":2,"t":0.0},{"d":67.25,"s":2,"t":-1.5},{"d":67.7,"s":2,"t":0.5},{"d":68.25,"s":2,"t":-1.4},{"d":68.7,"s":2,"t":0.3},{"d":69.25,"s":2,"t":-1.2},{"d":69.7,"s":2,"t":0.0},{"d":70.25,"s":2,"t":-1.0},{"d":70.7,"s":2,"t":0.2},{"d":71.25,"s":2,"t":-0.8},{"d":71.7,"s":2,"t":0.3},{"d":72.25,"s":2,"t":-0.9},{"d":72.7,"s":2,"t":0.6},{"d":73.25,"s":2,"t":-1.7},{"d":73.7,"s":2,"t":1.3},{"d":74.25,"s":2,"t":-1.0},{"d":74.7,"s":2,"t":0.4},{"d":75.25,"s":2,"t":-1.45},{"d":75.7,"s":2,"t":0.6},{"d":76.25,"s":2,"t":-1.1},{"d":76.7,"s":2,"t":0.5},{"d":77.25,"s":2,"t":-1.3},{"d":77.7,"s":2,"t":0.4},{"d":78.25,"s":2,"t":-1.2},{"d":78.7,"s":2,"t":0.3},{"d":79.25,"s":2,"t":-1.4},{"d":79.7,"s":2,"t":0.5},{"d":80.25,"s":2,"t":-1.3},{"d":80.7,"s":2,"t":0.8},{"d":81.25,"s":2,"t":-2.3},{"d":81.7,"s":2,"t":0.6},{"d":82.25,"s":2,"t":-2.4},{"d":82.7,"s":2,"t":0.5},{"d":83.25,"s":2,"t":-1.5},{"d":83.7,"s":2,"t":0.4},{"d":84.25,"s":2,"t":-1.7},{"d":84.7,"s":2,"t":0.3},{"d":85.25,"s":2,"t":-2.2},{"d":85.7,"s":2,"t":0.5},{"d":86.25,"s":2,"t":-1.8},{"d":86.7,"s":2,"t":0.6},{"d":87.25,"s":2,"t":-2.1},{"d":87.7,"s":2,"t":0.4},{"d":88.25,"s":2,"t":-2.0},{"d":88.7,"s":2,"t":0.5},{"d":89.25,"s":2,"t":-2.1},{"d":89.7,"s":2,"t":0.3},{"d":90.25,"s":2,"t":-2.0},{"d":90.7,"s":2,"t":0.2},{"d":91.25,"s":2,"t":-0.8},{"d":91.7,"s":2,"t":0.15},{"d":91.95,"s":2,"t":0.1},
{"d":0.25,"s":3,"t":-0.6},{"d":0.7,"s":3,"t":-0.25},{"d":1.25,"s":3,"t":-0.7},{"d":1.7,"s":3,"t":0.1},{"d":2.25,"s":3,"t":-0.4},{"d":2.7,"s":3,"t":0.0},{"d":3.25,"s":3,"t":-0.45},{"d":3.7,"s":3,"t":-0.1},{"d":4.25,"s":3,"t":-0.8},{"d":4.7,"s":3,"t":-0.2},{"d":5.25,"s":3,"t":-0.5},{"d":5.7,"s":3,"t":-0.15},{"d":6.25,"s":3,"t":-0.35},{"d":6.7,"s":3,"t":0.15},{"d":7.25,"s":3,"t":-0.3},{"d":7.7,"s":3,"t":-0.05},{"d":8.25,"s":3,"t":-0.4},{"d":8.7,"s":3,"t":0.2},{"d":9.25,"s":3,"t":-0.3},{"d":9.7,"s":3,"t":0.05},{"d":10.25,"s":3,"t":-0.25},{"d":10.7,"s":3,"t":0.25},{"d":11.25,"s":3,"t":-0.35},{"d":11.7,"s":3,"t":-0.05},{"d":12.25,"s":3,"t":-0.3},{"d":12.7,"s":3,"t":0.05},{"d":13.25,"s":3,"t":-0.45},{"d":13.7,"s":3,"t":-0.1},{"d":14.25,"s":3,"t":-0.35},{"d":14.7,"s":3,"t":-0.1},{"d":15.25,"s":3,"t":-0.4},{"d":15.7,"s":3,"t":-0.15},{"d":16.25,"s":3,"t":-0.3},{"d":16.7,"s":3,"t":-0.05},{"d":17.25,"s":3,"t":-0.45},{"d":17.7,"s":3,"t":0.35},{"d":18.25,"s":3,"t":-0.35},{"d":18.7,"s":3,"t":-0.1},{"d":19.25,"s":3,"t":-0.3},{"d":19.7,"s":3,"t":0.0},{"d":20.25,"s":3,"t":-0.1},{"d":20.7,"s":3,"t":0.18},{"d":21.25,"s":3,"t":-0.05},{"d":21.7,"s":3,"t":0.12},{"d":22.25,"s":3,"t":-0.15},{"d":22.7,"s":3,"t":0.1},{"d":23.25,"s":3,"t":-0.25},{"d":23.7,"s":3,"t":-0.05},{"d":24.25,"s":3,"t":-0.3},{"d":24.7,"s":3,"t":0.0},{"d":25.25,"s":3,"t":-0.35},{"d":25.7,"s":3,"t":-0.1},{"d":26.25,"s":3,"t":-0.35},{"d":26.7,"s":3,"t":-0.1},{"d":27.25,"s":3,"t":-0.3},{"d":27.7,"s":3,"t":-0.05},{"d":28.25,"s":3,"t":-0.35},{"d":28.7,"s":3,"t":-0.15},{"d":29.25,"s":3,"t":-0.4},{"d":29.7,"s":3,"t":-0.1},{"d":30.25,"s":3,"t":-0.35},{"d":30.7,"s":3,"t":-0.2},{"d":31.25,"s":3,"t":-0.3},{"d":31.7,"s":3,"t":-0.15},{"d":32.25,"s":3,"t":-0.25},{"d":32.7,"s":3,"t":-0.05},{"d":33.25,"s":3,"t":-0.2},{"d":33.7,"s":3,"t":0.0},{"d":34.25,"s":3,"t":-0.3},{"d":34.7,"s":3,"t":0.12},{"d":35.25,"s":3,"t":-0.35},{"d":35.7,"s":3,"t":0.0},{"d":36.25,"s":3,"t":-0.4},{"d":36.7,"s":3,"t":0.05},{"d":37.25,"s":3,"t":-0.5},{"d":37.7,"s":3,"t":-0.15},{"d":38.25,"s":3,"t":-0.45},{"d":38.7,"s":3,"t":-0.1},{"d":39.25,"s":3,"t":-0.55},{"d":39.7,"s":3,"t":-0.25},{"d":40.25,"s":3,"t":-0.6},{"d":40.7,"s":3,"t":-0.2},{"d":41.25,"s":3,"t":-0.5},{"d":41.7,"s":3,"t":-0.2},{"d":42.25,"s":3,"t":-0.7},{"d":42.7,"s":3,"t":-0.3},{"d":43.25,"s":3,"t":-0.55},{"d":43.7,"s":3,"t":-0.2},{"d":44.25,"s":3,"t":-0.7},{"d":44.7,"s":3,"t":-0.4},{"d":45.25,"s":3,"t":-1.0},{"d":45.7,"s":3,"t":0.2},{"d":46.25,"s":3,"t":-1.5},{"d":46.7,"s":3,"t":0.95},{"d":47.25,"s":3,"t":-1.6},{"d":47.7,"s":3,"t":0.9},{"d":48.25,"s":3,"t":-1.8},{"d":48.7,"s":3,"t":1.0},{"d":49.25,"s":3,"t":-1.5},{"d":49.7,"s":3,"t":1.4},{"d":50.25,"s":3,"t":-1.4},{"d":50.7,"s":3,"t":0.6},{"d":51.25,"s":3,"t":-1.2},{"d":51.7,"s":3,"t":0.95},{"d":52.25,"s":3,"t":-1.0},{"d":52.7,"s":3,"t":0.3},{"d":53.25,"s":3,"t":-1.1},{"d":53.7,"s":3,"t":0.7},{"d":54.25,"s":3,"t":-0.7},{"d":54.7,"s":3,"t":0.6},{"d":55.25,"s":3,"t":-0.9},{"d":55.7,"s":3,"t":0.5},{"d":56.25,"s":3,"t":-0.6},{"d":56.7,"s":3,"t":0.4},{"d":57.25,"s":3,"t":-1.0},{"d":57.7,"s":3,"t":0.3},{"d":58.25,"s":3,"t":-0.5},{"d":58.7,"s":3,"t":0.2},{"d":59.25,"s":3,"t":-0.6},{"d":59.7,"s":3,"t":0.35},{"d":60.25,"s":3,"t":-0.4},{"d":60.7,"s":3,"t":0.3},{"d":61.25,"s":3,"t":-0.5},{"d":61.7,"s":3,"t":0.45},{"d":62.25,"s":3,"t":-1.7},{"d":62.7,"s":3,"t":0.65},{"d":63.25,"s":3,"t":-0.4},{"d":63.7,"s":3,"t":0.2},{"d":64.25,"s":3,"t":-0.3},{"d":64.7,"s":3,"t":0.2},{"d":65.25,"s":3,"t":-0.2},{"d":65.7,"s":3,"t":1.4},{"d":66.25,"s":3,"t":-0.5},{"d":66.7,"s":3,"t":0.3},{"d":67.25,"s":3,"t":-1.3},{"d":67.7,"s":3,"t":2.2},{"d":68.25,"s":3,"t":-1.4},{"d":68.7,"s":3,"t":2.1},{"d":69.25,"s":3,"t":-0.8},{"d":69.7,"s":3,"t":0.9},{"d":70.25,"s":3,"t":-0.6},{"d":70.7,"s":3,"t":0.5},{"d":71.25,"s":3,"t":-0.4},{"d":71.7,"s":3,"t":0.6},{"d":72.25,"s":3,"t":-0.7},{"d":72.7,"s":3,"t":0.8},{"d":73.25,"s":3,"t":-2.0},{"d":73.7,"s":3,"t":1.3},{"d":74.25,"s":3,"t":-0.6},{"d":74.7,"s":3,"t":1.0},{"d":75.25,"s":3,"t":-0.8},{"d":75.7,"s":3,"t":1.2},{"d":76.25,"s":3,"t":-0.5},{"d":76.7,"s":3,"t":1.3},{"d":77.25,"s":3,"t":-0.8},{"d":77.7,"s":3,"t":1.5},{"d":78.25,"s":3,"t":-1.0},{"d":78.7,"s":3,"t":1.2},{"d":79.25,"s":3,"t":-0.8},{"d":79.7,"s":3,"t":1.5},{"d":80.25,"s":3,"t":-1.1},{"d":80.7,"s":3,"t":1.1},{"d":81.25,"s":3,"t":-2.3},{"d":81.7,"s":3,"t":2.1},{"d":82.25,"s":3,"t":-1.8},{"d":82.7,"s":3,"t":1.5},{"d":83.25,"s":3,"t":-1.2},{"d":83.7,"s":3,"t":1.8},{"d":84.25,"s":3,"t":-1.4},{"d":84.7,"s":3,"t":2.0},{"d":85.25,"s":3,"t":-2.0},{"d":85.7,"s":3,"t":1.7},{"d":86.25,"s":3,"t":-1.2},{"d":86.7,"s":3,"t":2.1},{"d":87.25,"s":3,"t":-1.5},{"d":87.7,"s":3,"t":2.5},{"d":88.25,"s":3,"t":-1.8},{"d":88.7,"s":3,"t":3.0},{"d":89.25,"s":3,"t":-1.6},{"d":89.7,"s":3,"t":3.0},{"d":90.25,"s":3,"t":-2.0},{"d":90.7,"s":3,"t":2.7},{"d":91.25,"s":3,"t":-0.9},{"d":91.7,"s":3,"t":2.4},{"d":91.95,"s":3,"t":2.1}]
},
"vconcat":[
{
"width":595,"height":344,
"title":{"text":"a","anchor":"start","frame":"group","dx":-42,"dy":44.8,"offset":0,"baseline":"alphabetic","font":"Open Sans","fontSize":29,"fontWeight":"normal","color":"black"},
"layer":[
{"data":{"name":"air"},"mark":{"type":"line","color":"black","strokeWidth":1.6},
"encoding":{
"x":{"field":"d","type":"quantitative","title":null,"scale":{"domain":[0,92],"nice":false,"zero":false},
"axis":{"values":[0,31,61,92],"labelExpr":"datum.value == 0 ? 'March' : datum.value == 31 ? ['April','2018'] : datum.value == 61 ? 'May' : ''","labelFont":"Liberation Sans","labelFontSize":22,"labelBaseline":"top","labelAlign":"center","labelLineHeight":26,"labelPadding":16.5,"tickSize":4,"tickWidth":1.2,"domainWidth":1.8,"labelOverlap":false,"labelFlush":false,"title":null,"labelOffset":{"condition":{"test":"datum.value == 31","value":92},"value":107}}},
"y":{"field":"t","type":"quantitative","scale":{"domain":[-30,30],"nice":false,"zero":false},
"axis":{"values":[-30,-20,-10,0,10,20,30],"labelExpr":"'' + datum.value","title":"Air temperature °C","titleFont":"Lato","titleFontSize":13,"titleFontWeight":"bold","titlePadding":2,"labelFont":"Lato","labelFontSize":10.5,"labelFontWeight":"bold","tickSize":4,"tickWidth":1.2,"labelPadding":4,"domainWidth":1.8}}}},
{"data":{"name":"zero"},"mark":{"type":"rule","color":"black","strokeWidth":1.5},"encoding":{"y":{"field":"t","type":"quantitative"}}},
{"data":{"name":"snow"},"mark":{"type":"rule","color":"black","strokeWidth":2,"strokeDash":[2,9.3]},"encoding":{"x":{"field":"d","type":"quantitative","title":null},"y":{"datum":27.5},"y2":{"datum":-36.9}}},
{"data":{"name":"snow"},"mark":{"type":"text","font":"Open Sans","fontSize":18,"dx":5,"baseline":"alphabetic","align":"center","color":"black"},"encoding":{"x":{"field":"d","type":"quantitative","title":null},"y":{"datum":29.25},"text":{"field":"label"}}}
]
},
{
"width":595,"height":344,
"title":{"text":"b","anchor":"start","frame":"group","dx":-42,"dy":39,"offset":0,"baseline":"alphabetic","font":"Open Sans","fontSize":29,"fontWeight":"normal","color":"black"},
"layer":[
{"data":{"name":"soilb"},"mark":{"type":"line","strokeWidth":1.3},
"encoding":{
"x":{"field":"d","type":"quantitative","title":null,"scale":{"domain":[0,92],"nice":false,"zero":false},
"axis":{"values":[0,31,61,92],"labelExpr":"datum.value == 0 ? 'March' : datum.value == 31 ? ['April','2018'] : datum.value == 61 ? 'May' : ''","labelFont":"Liberation Sans","labelFontSize":22,"labelBaseline":"top","labelAlign":"center","labelLineHeight":26,"labelPadding":5,"tickSize":4,"tickWidth":1.2,"domainWidth":1.8,"labelOverlap":false,"labelFlush":false,"title":null,"labelOffset":{"condition":{"test":"datum.value == 31","value":92},"value":107}}},
"y":{"field":"t","type":"quantitative","scale":{"domain":[-3,3],"nice":false,"zero":false},
"axis":{"values":[-3,-2,-1,0,1,2,3],"labelExpr":"'' + datum.value","title":"Soil temperature °C","titleFont":"Lato","titleFontSize":12.7,"titleFontWeight":"bold","titlePadding":4,"labelFont":"Lato","labelFontSize":8,"labelFontWeight":"bold","tickSize":4,"tickWidth":1.2,"labelPadding":7,"domainWidth":1.5}},
"color":{"field":"s","type":"nominal","scale":{"domain":[1,2,3],"range":["#5B9BD5","#ED7D31","#A5A5A5"]},
"legend":{"title":null,"orient":"none","legendX":480,"legendY":243.2,"symbolType":"stroke","symbolSize":1444,"symbolStrokeWidth":4,"clipHeight":29,"labelFont":"Liberation Sans","labelFontSize":23,"labelColor":"black","labelOffset":13,"rowPadding":0,"padding":0,"labelExpr":"'Location ' + datum.label","encode":{"symbols":{"update":{"stroke":{"signal":"datum.value == 1 ? '#0070C0' : datum.value == 2 ? '#ED7D31' : '#A5A5A5'"}}}}}}}},
{"data":{"name":"zero"},"mark":{"type":"rule","color":"#404040","strokeWidth":1.3},"encoding":{"y":{"field":"t","type":"quantitative"}}},
{"data":{"name":"snow"},"mark":{"type":"rule","color":"black","strokeWidth":2,"strokeDash":[2,9.3]},"encoding":{"x":{"field":"d","type":"quantitative","title":null},"y":{"datum":3},"y2":{"datum":-3.68}}}
]
},
{
"width":595,"height":361.4,
"title":{"text":"c","anchor":"start","frame":"group","dx":-42,"dy":55.7,"offset":0,"baseline":"alphabetic","font":"Open Sans","fontSize":29,"fontWeight":"normal","color":"black"},
"layer":[
{"data":{"name":"soilc"},"mark":{"type":"line","strokeWidth":1.3},
"encoding":{
"x":{"field":"d","type":"quantitative","title":null,"scale":{"domain":[0,92],"nice":false,"zero":false},
"axis":{"values":[0,31,61,92],"labelExpr":"datum.value == 0 ? 'March' : datum.value == 31 ? ['April','2018'] : datum.value == 61 ? 'May' : ''","labelFont":"Liberation Sans","labelFontSize":22,"labelBaseline":"top","labelAlign":"center","labelLineHeight":26,"labelPadding":6,"tickSize":4,"tickWidth":1.2,"domainWidth":1.8,"labelOverlap":false,"labelFlush":false,"title":null,"labelOffset":{"condition":[{"test":"datum.value == 31","value":79},{"test":"datum.value == 61","value":94}],"value":108}}},
"y":{"field":"t","type":"quantitative","scale":{"domain":[-3,3],"nice":false,"zero":false,"range":[361.4,16.4]},
"axis":{"values":[-3,-2,-1,0,1,2,3],"labelExpr":"'' + datum.value","title":"Soil temperature °C","titleFont":"Lato","titleFontSize":12.7,"titleFontWeight":"bold","titlePadding":4,"labelFont":"Lato","labelFontSize":8,"labelFontWeight":"bold","tickSize":4,"tickWidth":1.2,"labelPadding":7,"domainWidth":1.5}},
"color":{"field":"s","type":"nominal","scale":{"domain":[1,2,3],"range":["#5B9BD5","#ED7D31","#A5A5A5"]},"legend":null}}},
{"data":{"name":"zero"},"mark":{"type":"rule","color":"black","strokeWidth":1.8},"encoding":{"y":{"field":"t","type":"quantitative"}}},
{"data":{"name":"snow"},"mark":{"type":"rule","color":"black","strokeWidth":2,"strokeDash":[2,9.3]},"encoding":{"x":{"field":"d","type":"quantitative","title":null},"y":{"datum":3.285},"y2":{"datum":-2.93}}}
]
}
],
"spacing":39.3,
"bounds":"flush",
"resolve":{"scale":{"color":"independent"},"legend":{"color":"independent"}}
}
